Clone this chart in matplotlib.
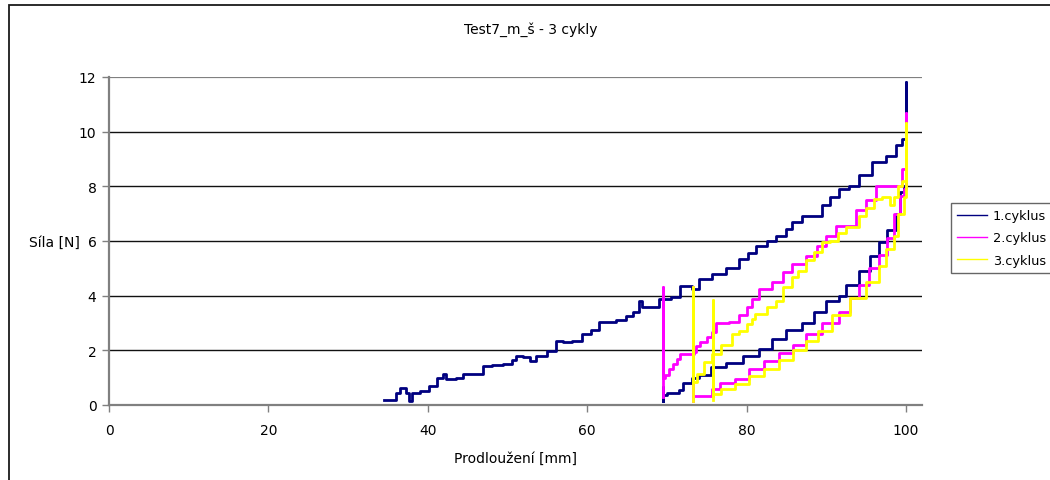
import matplotlib; matplotlib.use('Agg')
import matplotlib.pyplot as plt
from matplotlib.patches import Rectangle

# --- data: (Prodloužení [mm], Síla [N]) ---
c1_x = [34.5, 35.5, 36.0, 36.5, 37.2, 37.7, 38.0, 39.0, 40.2, 41.1, 41.9, 42.3, 43.5, 44.4, 45.5,
        46.9, 48.0, 49.4, 50.5, 51.1, 52.0, 52.8, 53.6, 54.9, 56.1, 57.0, 58.1, 59.4, 60.5, 61.5,
        63.6, 64.9, 65.7, 66.5, 66.9, 68.2, 69.0, 70.5, 71.6, 73.2, 74.0, 75.7, 77.4, 79.0, 80.2,
        81.2, 82.5, 83.7, 85.0, 85.7, 87.0, 88.2, 89.5, 90.5, 91.6, 92.9, 94.1, 95.7, 97.5, 98.7,
        99.5, 100.0, 100.0, 100.0,
        99.7, 99.2, 98.7, 97.6, 96.6, 95.5, 94.1, 92.5, 91.6, 90.0, 88.5, 87.0, 85.0, 83.2, 81.5,
        79.5, 77.4, 75.5, 74.0, 73.2, 72.0, 71.5, 70.0, 69.5, 69.5, 69.5]
c1_y = [0.2, 0.2, 0.45, 0.62, 0.45, 0.15, 0.45, 0.5, 0.7, 1.0, 1.13, 0.95, 1.0, 1.13, 1.15,
        1.43, 1.45, 1.5, 1.65, 1.8, 1.75, 1.6, 1.8, 1.98, 2.35, 2.3, 2.35, 2.6, 2.75, 3.05,
        3.1, 3.26, 3.4, 3.8, 3.58, 3.6, 3.88, 3.95, 4.35, 4.25, 4.6, 4.8, 5.0, 5.35, 5.55,
        5.8, 6.0, 6.2, 6.45, 6.7, 6.9, 6.9, 7.3, 7.6, 7.9, 8.0, 8.4, 8.9, 9.1, 9.5,
        9.75, 9.8, 11.8, 8.0,
        7.8, 7.0, 6.4, 5.95, 5.45, 4.9, 4.4, 4.0, 3.8, 3.4, 3.0, 2.75, 2.4, 2.05, 1.8,
        1.55, 1.4, 1.1, 1.0, 0.8, 0.55, 0.45, 0.35, 0.3, 0.65, 0.15]

c2_x = [69.5, 69.5, 69.5, 69.8, 70.3, 70.8, 71.3, 71.6, 73.2, 73.4, 73.7, 74.1, 75.0, 75.7,
        76.2, 77.8, 79.0, 80.0, 80.7, 81.6, 83.2, 84.5, 85.7, 87.5, 88.8, 90.0, 91.2, 92.5,
        93.7, 95.0, 96.2, 98.3, 99.5, 100.0, 100.0, 100.0,
        99.7, 99.2, 98.5, 97.6, 96.6, 95.3, 94.1, 93.0, 91.6, 89.5, 87.5, 85.8, 84.1, 82.2,
        80.3, 78.5, 76.6, 75.6, 73.3, 73.3, 73.3]
c2_y = [0.3, 4.3, 1.0, 1.1, 1.3, 1.5, 1.7, 1.85, 1.85, 1.95, 2.16, 2.3, 2.5, 2.67,
        3.0, 3.05, 3.3, 3.6, 3.88, 4.25, 4.5, 4.85, 5.15, 5.45, 5.8, 6.2, 6.55, 6.55,
        7.15, 7.5, 8.0, 8.0, 8.65, 8.8, 10.7, 7.9,
        7.65, 7.0, 6.1, 5.5, 5.0, 4.4, 3.9, 3.4, 3.0, 2.6, 2.2, 1.9, 1.6, 1.3,
        0.95, 0.8, 0.6, 0.33, 0.33, 4.3, 0.15]

c3_x = [73.3, 73.3, 73.3, 73.8, 74.7, 75.7, 76.8, 78.2, 79.1, 80.0, 80.7, 81.0, 82.5, 83.7,
        84.5, 85.7, 86.5, 87.5, 88.5, 89.5, 90.5, 91.5, 92.5, 94.1, 95.0, 96.0, 97.0, 98.0,
        98.5, 99.0, 99.5, 100.0, 100.0, 100.0,
        99.7, 99.0, 98.5, 97.5, 96.6, 95.0, 93.0, 90.7, 89.0, 87.5, 85.8, 84.1, 82.2, 80.3,
        78.5, 76.8, 75.8, 75.8, 75.8]
c3_y = [0.15, 4.3, 0.85, 1.13, 1.57, 1.87, 2.2, 2.6, 2.7, 2.96, 3.15, 3.33, 3.58, 3.8,
        4.3, 4.7, 4.9, 5.3, 5.6, 5.95, 6.0, 6.3, 6.5, 6.9, 7.2, 7.55, 7.6, 7.3,
        7.6, 8.0, 8.2, 8.3, 10.3, 7.6,
        7.0, 6.2, 5.7, 5.1, 4.5, 3.9, 3.3, 2.7, 2.35, 2.0, 1.65, 1.3, 1.05, 0.77,
        0.6, 0.4, 0.33, 3.85, 0.2]

series = [(c1_x, c1_y, '#000080', '1.cyklus'),
          (c2_x, c2_y, '#FF00FF', '2.cyklus'),
          (c3_x, c3_y, '#FFFF00', '3.cyklus')]
y_ticks = [0, 2, 4, 6, 8, 10, 12]
x_ticks = [0, 20, 40, 60, 80, 100]

plt.rcParams['font.family'] = ['DejaVu Sans']
fig = plt.figure(figsize=(10.5, 4.81), dpi=100)
# chart frame, open at right and bottom edges
fig.patches.append(Rectangle((9/1050, -0.1), 1.2, 1.1 - 6/481, transform=fig.transFigure,
                             fill=False, edgecolor='#1a1a1a', lw=1.3))

ax = fig.add_axes([109/1050, 75/481, 813/1050, 328/481])
for y in y_ticks[1:]:
    ax.axhline(y, color='#808080' if y == 12 else '#111111', lw=1.6 if y == 12 else 1.0, zorder=1)
for xs, ys, col, lab in series:
    ax.plot(xs, ys, color=col, lw=2.0, drawstyle='steps-post', label=lab, zorder=3)

ax.set_xlim(0, 102)
ax.set_ylim(0, 12)
ax.set_xticks(x_ticks)
ax.set_yticks(y_ticks)
for s in ['top', 'right']:
    ax.spines[s].set_visible(False)
for s in ['left', 'bottom']:
    ax.spines[s].set_color('#808080')
    ax.spines[s].set_linewidth(1.6)
ax.tick_params(direction='out', length=5, width=1, color='#808080', labelsize=10)
ax.tick_params(axis='y', pad=4)
ax.tick_params(axis='x', pad=8)

fig.text(0.505, 1 - 30/481, 'Test7_m_š - 3 cykly', ha='center', va='center', fontsize=10)
fig.text(80/1050, 1 - 243/481, 'Síla [N]', ha='right', va='center', fontsize=10)
fig.text(515/1050, 1 - 459/481, 'Prodloužení [mm]', ha='center', va='center', fontsize=10)

leg = ax.legend(loc='upper left', bbox_to_anchor=(951/1050, 1 - 204/481),
                bbox_transform=fig.transFigure, fancybox=False, edgecolor='#404040',
                fontsize=9.3, handlelength=2.3, handletextpad=0.45, borderpad=0.5,
                labelspacing=0.7, borderaxespad=0)
leg.get_frame().set_linewidth(1.0)
for line in leg.get_lines():
    line.set_linewidth(1.0)

fig.savefig('out.png', dpi=100)
